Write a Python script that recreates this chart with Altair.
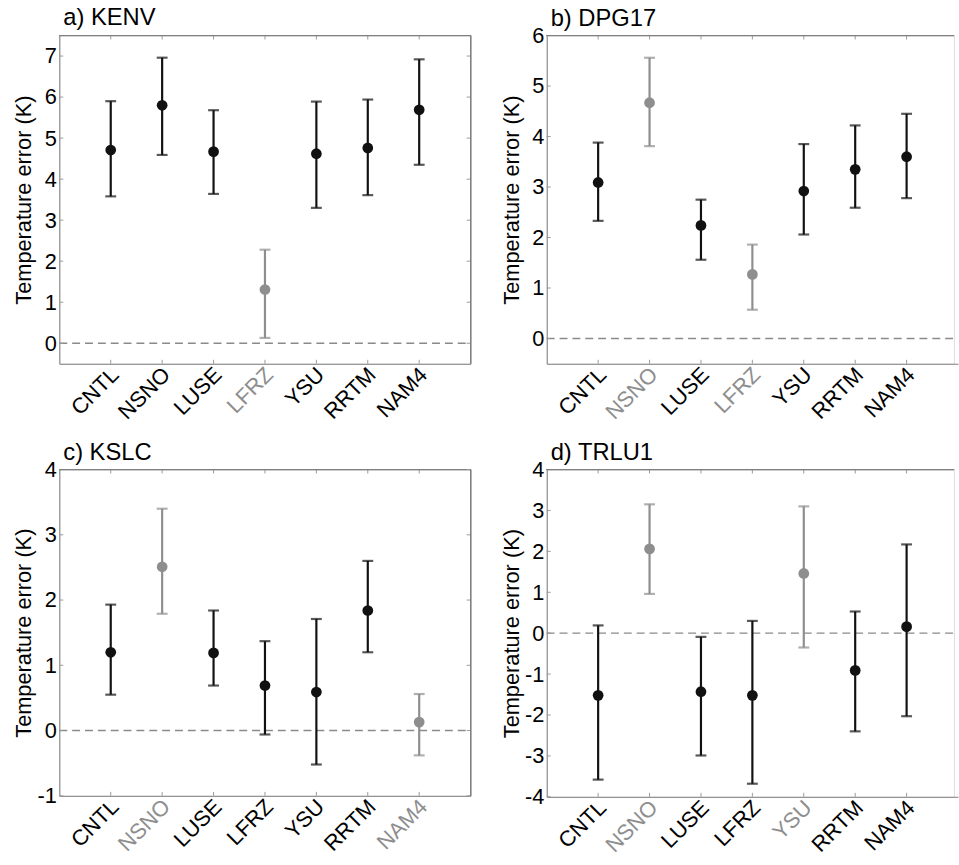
import altair as alt
import pandas as pd

FONT = "Liberation Sans"
BLACK = "#111111"
GRAY = "#8e8e8e"

cats = ["CNTL", "NSNO", "LUSE", "LFRZ", "YSU", "RRTM", "NAM4"]

# a) KENV
a_mean = [4.71, 5.80, 4.67, 1.31, 4.62, 4.76, 5.69]
a_lo = [3.58, 4.59, 3.64, 0.13, 3.30, 3.61, 4.35]
a_hi = [5.90, 6.96, 5.68, 2.28, 5.89, 5.94, 6.92]
a_gray = ["LFRZ"]

# b) DPG17
b_mean = [3.09, 4.67, 2.24, 1.27, 2.92, 3.35, 3.60]
b_lo = [2.33, 3.81, 1.56, 0.57, 2.06, 2.59, 2.78]
b_hi = [3.88, 5.56, 2.75, 1.86, 3.85, 4.22, 4.45]
b_gray = ["NSNO", "LFRZ"]

# c) KSLC
c_mean = [1.20, 2.51, 1.19, 0.69, 0.59, 1.84, 0.13]
c_lo = [0.55, 1.79, 0.69, -0.06, -0.52, 1.20, -0.38]
c_hi = [1.93, 3.40, 1.84, 1.37, 1.71, 2.60, 0.56]
c_gray = ["NSNO", "NAM4"]

# d) TRLU1
d_mean = [-1.52, 2.06, -1.43, -1.52, 1.46, -0.91, 0.16]
d_lo = [-3.58, 0.96, -2.99, -3.68, -0.35, -2.40, -2.03]
d_hi = [0.19, 3.15, -0.09, 0.30, 3.10, 0.53, 2.17]
d_gray = ["NSNO", "YSU"]


def panel(title, mean, lo, hi, gray, ydom, yticks, W, H, right_border, title_dy):
    df = pd.DataFrame({
        "cat": cats, "mean": mean, "lo": lo, "hi": hi,
        "grp": ["gray" if c in gray else "black" for c in cats],
    })
    gray_list = ",".join("'%s'" % g for g in gray)
    xscale = alt.Scale(type="point", domain=cats, padding=1, range=[0, 416])
    xaxis = alt.Axis(
        title=None, labelAngle=-45, labelAlign="right", labelBaseline="middle",
        labelFont=FONT, labelFontSize=22, labelPadding=7, labelOffset=4,
        labelColor={"condition": {"test": "indexof([%s], datum.value) >= 0" % gray_list,
                                  "value": GRAY}, "value": "black"},
        ticks=False, grid=False, domainColor="#7f7f7f", domainWidth=1,
        labelOverlap=False,
    )
    yscale = alt.Scale(domain=ydom, nice=False, zero=False)
    yaxis = alt.Axis(
        title="Temperature error (K)", values=yticks, labelExpr="'' + datum.value",
        labelFont=FONT, labelFontSize=22, labelColor="black", labelPadding=3,
        titleFont=FONT, titleFontSize=22, titleFontWeight="normal", titleColor="black",
        titlePadding=4, minExtent=20, maxExtent=20,
        ticks=False, grid=False, domainColor="#7f7f7f", domainWidth=1,
    )

    def X(f="cat"):
        return alt.X(f + ":N", scale=xscale, axis=xaxis, sort=cats)

    def Y(f):
        return alt.Y(f + ":Q", scale=yscale, axis=yaxis)

    color = alt.Color("grp:N", scale=alt.Scale(domain=["black", "gray"], range=[BLACK, GRAY]),
                      legend=None)
    base = alt.Chart(df)

    zero = alt.Chart(pd.DataFrame({"z": [0]})).mark_rule(
        color="#8a8a8a", strokeDash=[8, 5], strokeWidth=1.4
    ).encode(y=Y("z"), x=alt.value(0), x2=alt.value(W))

    bars = base.mark_rule(strokeWidth=2.2).encode(x=X(), y=Y("lo"), y2="hi", color=color)
    cap_lo = base.mark_tick(thickness=2.2, size=11).encode(x=X(), y=Y("lo"), color=color)
    cap_hi = base.mark_tick(thickness=2.2, size=11).encode(x=X(), y=Y("hi"), color=color)
    pts = base.mark_circle(size=118, opacity=1).encode(x=X(), y=Y("mean"), color=color)

    tdf = pd.DataFrame({"t": yticks})
    tick_l = alt.Chart(tdf).mark_rule(color="#9a9a9a", strokeWidth=1).encode(
        y=Y("t"), x=alt.value(0), x2=alt.value(4))
    tick_top = base.mark_rule(color="#9a9a9a", strokeWidth=1).encode(
        x=X(), y=alt.value(0), y2=alt.value(4))
    tick_bot = base.mark_rule(color="#9a9a9a", strokeWidth=1).encode(
        x=X(), y=alt.value(H - 4), y2=alt.value(H))
    top = base.mark_rule(color="#7f7f7f", strokeWidth=1).encode(
        x=alt.value(0), x2=alt.value(W), y=alt.value(0))
    layers = [zero, tick_l, tick_top, tick_bot, top]
    if right_border:
        layers.append(alt.Chart(tdf).mark_rule(color="#9a9a9a", strokeWidth=1).encode(
            y=Y("t"), x=alt.value(W - 4), x2=alt.value(W)))
        layers.append(base.mark_rule(color="#7f7f7f", strokeWidth=1).encode(
            x=alt.value(W), y=alt.value(0), y2=alt.value(H)))
    layers += [bars, cap_lo, cap_hi, pts]
    return alt.layer(*layers).properties(
        width=W, height=H,
        title=alt.TitleParams(title, anchor="start", frame="group", font=FONT, fontSize=24,
                              fontWeight="normal", color="black", offset=5, dx=4,
                              dy=title_dy),
    )


pa = panel("a) KENV", a_mean, a_lo, a_hi, a_gray, [-0.5, 7.5], list(range(0, 8)), 416, 332, True, 0)
pb = panel("b) DPG17", b_mean, b_lo, b_hi, b_gray, [-0.5, 6], list(range(0, 7)), 412, 332, False, 11)
pc = panel("c) KSLC", c_mean, c_lo, c_hi, c_gray, [-1, 4], list(range(-1, 5)), 416, 330, True, 11)
pd_ = panel("d) TRLU1", d_mean, d_lo, d_hi, d_gray, [-4, 4], list(range(-4, 5)), 412, 331, False, 11)

chart = alt.vconcat(
    alt.hconcat(pa, pb, spacing=27),
    alt.hconcat(pc, pd_, spacing=27),
    spacing=16,
).properties(
    padding={"left": 12, "top": 1, "right": 0, "bottom": 0}
).configure_view(stroke=None).configure(background="white")

chart.save("out.html", embed_options={"renderer": "svg", "actions": False})
